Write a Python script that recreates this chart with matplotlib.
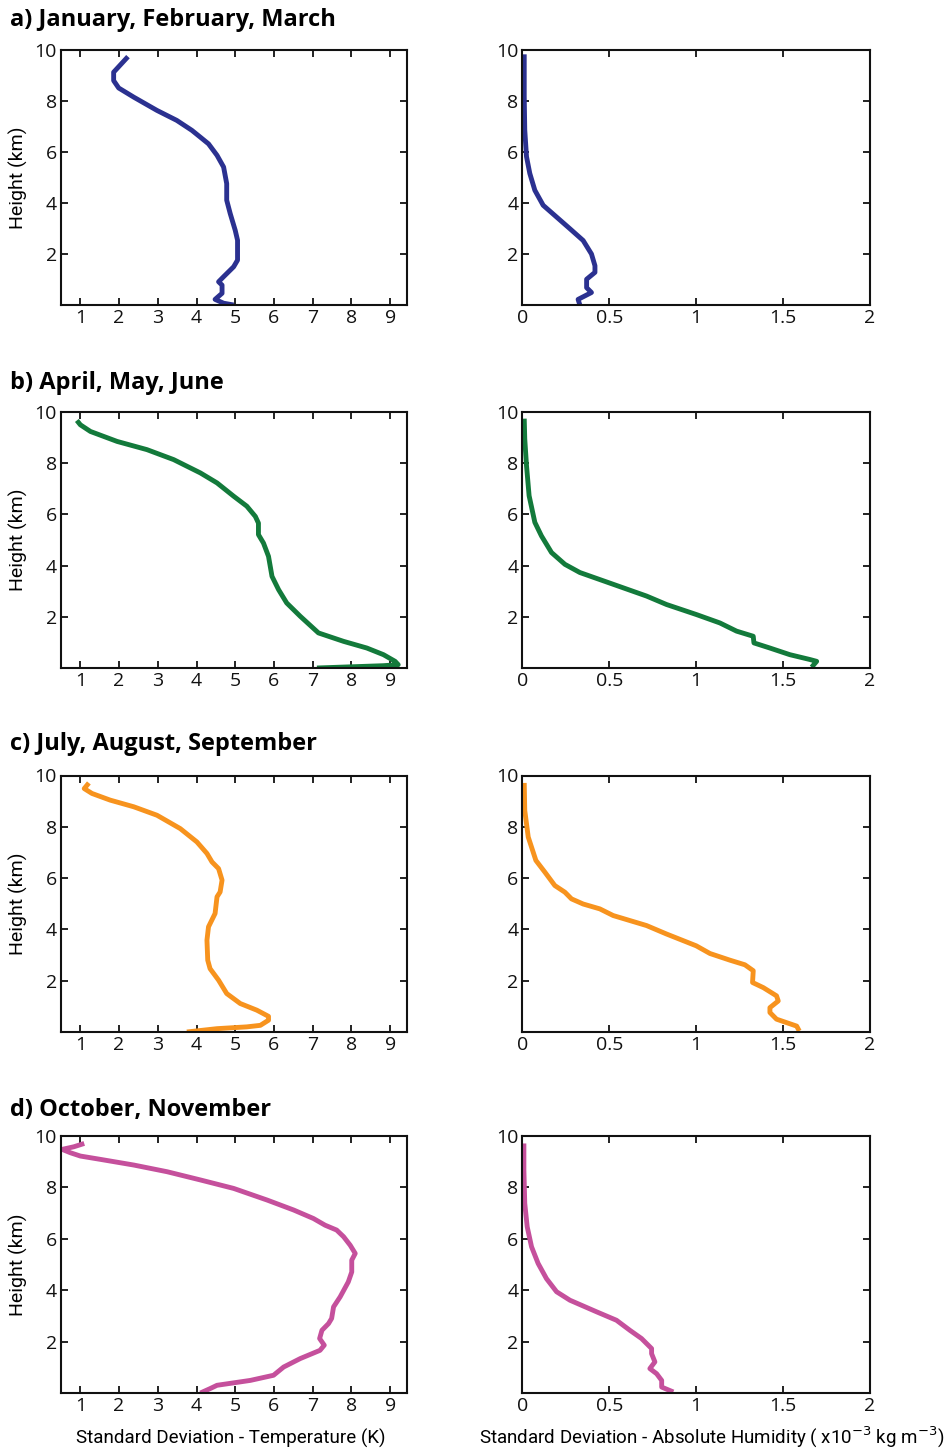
import matplotlib
matplotlib.use("Agg")
import matplotlib.pyplot as plt
from matplotlib.ticker import FixedLocator, FixedFormatter

plt.rcParams['font.family'] = ['Open Sans', 'DejaVu Sans']

# ---------------- data ----------------
titles = ["a) January, February, March", "b) April, May, June",
          "c) July, August, September", "d) October, November"]
colors = ["#2b3190", "#137a3b", "#f7931e", "#c5509c"]

# a) JFM
temp_a_x = [2.23, 1.86, 1.86, 1.99, 2.38, 2.98, 3.49, 3.88, 4.10, 4.31, 4.53, 4.70, 4.78, 4.78,
            4.87, 5.00, 5.06, 5.06, 4.96, 4.70, 4.57, 4.66, 4.66, 4.48, 4.70, 4.96]
temp_a_h = [9.74, 9.13, 8.80, 8.51, 8.15, 7.63, 7.24, 6.85, 6.58, 6.32, 5.87, 5.41, 4.76, 4.11,
            3.59, 2.93, 2.54, 1.76, 1.50, 1.11, 0.91, 0.78, 0.46, 0.22, 0.07, 0.00]
hum_a_x = [0.010, 0.010, 0.013, 0.023, 0.042, 0.071, 0.119, 0.196, 0.273, 0.349, 0.397, 0.417,
           0.417, 0.369, 0.369, 0.397, 0.320, 0.330]
hum_a_h = [9.83, 8.18, 6.87, 5.82, 5.16, 4.50, 3.91, 3.45, 2.99, 2.53, 2.00, 1.54,
           1.28, 1.01, 0.68, 0.49, 0.22, 0.00]

# b) AMJ
temp_b_x = [0.91, 1.00, 1.26, 1.95, 2.72, 3.41, 4.10, 4.53, 4.96, 5.30, 5.52, 5.60, 5.60, 5.73,
            5.86, 5.95, 6.12, 6.33, 6.68, 7.15, 7.80, 8.40, 8.83, 9.13, 9.21, 8.83, 7.11]
temp_b_h = [9.67, 9.50, 9.24, 8.85, 8.53, 8.14, 7.62, 7.23, 6.71, 6.32, 5.92, 5.66, 5.21, 4.88,
            4.36, 3.58, 3.06, 2.54, 2.02, 1.37, 1.04, 0.78, 0.52, 0.26, 0.13, 0.09, 0.00]
hum_b_x = [0.010, 0.013, 0.023, 0.038, 0.071, 0.109, 0.167, 0.244, 0.330, 0.522, 0.714, 0.829,
           1.000, 1.136, 1.232, 1.328, 1.332, 1.424, 1.539, 1.655, 1.693, 1.664]
hum_b_h = [9.74, 8.95, 7.91, 6.73, 5.69, 5.16, 4.51, 4.05, 3.73, 3.27, 2.81, 2.48,
           2.09, 1.76, 1.44, 1.24, 0.98, 0.78, 0.52, 0.33, 0.26, 0.03]

# c) JAS
temp_c_x = [1.22, 1.10, 1.30, 1.77, 2.38, 2.98, 3.58, 4.01, 4.27, 4.40, 4.57, 4.66, 4.61, 4.53,
            4.48, 4.31, 4.27, 4.29, 4.35, 4.57, 4.78, 5.13, 5.56, 5.86, 5.86, 5.65, 5.30, 4.53, 3.75]
temp_c_h = [9.71, 9.49, 9.30, 9.04, 8.78, 8.45, 7.93, 7.41, 6.96, 6.63, 6.37, 5.92, 5.46, 5.27,
            4.62, 4.10, 3.58, 2.80, 2.47, 2.02, 1.50, 1.11, 0.85, 0.61, 0.46, 0.26, 0.20, 0.13, 0.00]
hum_c_x = [0.010, 0.013, 0.033, 0.077, 0.129, 0.186, 0.244, 0.282, 0.349, 0.445, 0.522, 0.714,
           0.829, 1.000, 1.079, 1.194, 1.280, 1.328, 1.324, 1.386, 1.462, 1.472, 1.424, 1.424,
           1.462, 1.578, 1.593]
hum_c_h = [9.71, 8.64, 7.60, 6.69, 6.23, 5.71, 5.45, 5.19, 4.99, 4.80, 4.54, 4.15,
           3.82, 3.36, 3.06, 2.80, 2.62, 2.39, 1.93, 1.73, 1.41, 1.21, 0.95, 0.76,
           0.50, 0.23, 0.04]

# d) ON
temp_d_x = [1.10, 0.83, 0.53, 0.74, 1.00, 1.52, 2.38, 3.24, 4.10, 4.96, 5.82, 6.51, 7.02, 7.32,
            7.62, 7.80, 7.97, 8.10, 8.01, 8.01, 7.92, 7.71, 7.54, 7.49, 7.41, 7.24, 7.18, 7.30,
            7.19, 6.68, 6.25, 5.99, 5.39, 4.53, 4.35, 4.10]
temp_d_h = [9.71, 9.58, 9.48, 9.35, 9.22, 9.09, 8.87, 8.61, 8.29, 7.96, 7.51, 7.12, 6.79, 6.53,
            6.34, 6.08, 5.75, 5.43, 5.17, 4.71, 4.32, 3.74, 3.35, 2.90, 2.70, 2.44, 2.12, 1.86,
            1.66, 1.34, 1.01, 0.69, 0.49, 0.30, 0.17, 0.00]
hum_d_x = [0.008, 0.008, 0.013, 0.027, 0.052, 0.090, 0.138, 0.196, 0.273, 0.426, 0.541, 0.618,
           0.685, 0.743, 0.743, 0.762, 0.733, 0.772, 0.801, 0.801, 0.868]
hum_d_h = [9.71, 8.68, 7.38, 6.47, 5.69, 5.04, 4.45, 3.94, 3.61, 3.16, 2.83, 2.44,
           2.12, 1.73, 1.53, 1.21, 0.95, 0.75, 0.49, 0.23, 0.04]

temp_x = [temp_a_x, temp_b_x, temp_c_x, temp_d_x]
temp_h = [temp_a_h, temp_b_h, temp_c_h, temp_d_h]
hum_x = [hum_a_x, hum_b_x, hum_c_x, hum_d_x]
hum_h = [hum_a_h, hum_b_h, hum_c_h, hum_d_h]

temp_ticks = [1, 2, 3, 4, 5, 6, 7, 8, 9]
temp_ticklabels = ["1", "2", "3", "4", "5", "6", "7", "8", "9"]
hum_ticks = [0, 0.5, 1, 1.5, 2]
hum_ticklabels = ["0", "0.5", "1", "1.5", "2"]
h_ticks = [2, 4, 6, 8, 10]
h_ticklabels = ["2", "4", "6", "8", "10"]

# ---------------- figure ----------------
W, H = 945, 1454
fig = plt.figure(figsize=(W / 100, H / 100), dpi=100)

rows_px = [(50, 305), (412, 668), (775.5, 1032), (1136, 1393)]
left_px = (61, 407.5)
right_px = (522.5, 870)
title_y_px = [20, 383, 744, 1110]

narrow = ['Roboto', 'DejaVu Sans']


def style(ax, xt, xtl, xlim):
    ax.set_xlim(*xlim)
    ax.set_ylim(0, 10)
    ax.xaxis.set_major_locator(FixedLocator(xt))
    ax.xaxis.set_major_formatter(FixedFormatter(xtl))
    ax.yaxis.set_major_locator(FixedLocator(h_ticks))
    ax.yaxis.set_major_formatter(FixedFormatter(h_ticklabels))
    ax.tick_params(direction='in', top=True, right=True, length=5, width=1.3,
                   labelsize=14, pad=3, colors='#111111')
    for s in ax.spines.values():
        s.set_linewidth(1.5)
        s.set_color('#111111')


for i in range(4):
    top, bot = rows_px[i]
    b = 1 - bot / H
    h = (bot - top) / H
    axL = fig.add_axes([left_px[0] / W, b, (left_px[1] - left_px[0]) / W, h])
    axR = fig.add_axes([right_px[0] / W, b, (right_px[1] - right_px[0]) / W, h])
    axL.plot(temp_x[i], temp_h[i], color=colors[i], lw=3.5, solid_joinstyle='round',
             solid_capstyle='butt')
    axR.plot(hum_x[i], hum_h[i], color=colors[i], lw=3.5, solid_joinstyle='round',
             solid_capstyle='butt')
    style(axL, temp_ticks, temp_ticklabels, (0.5, 9.45))
    style(axR, hum_ticks, hum_ticklabels, (0, 2))
    axL.set_ylabel("Height (km)", fontsize=14, family=narrow, labelpad=5)
    fig.text(10 / W, 1 - title_y_px[i] / H, titles[i], fontsize=17, fontweight='bold',
             ha='left', va='center')
    if i == 3:
        axL.set_xlabel("Standard Deviation - Temperature (K)", fontsize=13.5, family=narrow,
                       va='baseline')
        axR.set_xlabel("Standard Deviation - Absolute Humidity ( x10$^{-3}$ kg m$^{-3}$)",
                       fontsize=13.5, family=narrow, va='baseline')
        base_frac = (bot - 1444) / (bot - top)
        axR.xaxis.set_label_coords(0.543, base_frac)
        axL.xaxis.set_label_coords(0.49, base_frac)

fig.savefig("out.png", dpi=100)
